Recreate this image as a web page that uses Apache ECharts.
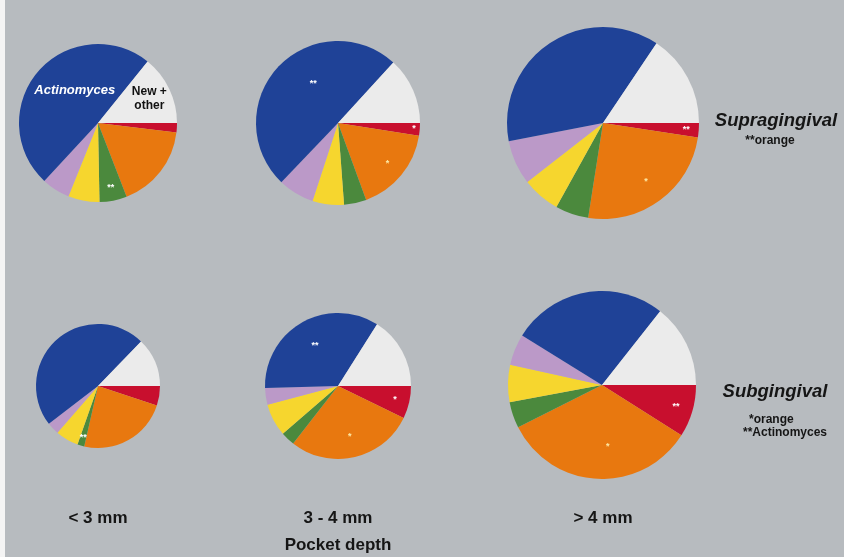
<!DOCTYPE html>
<html>
<head>
<meta charset="utf-8">
<script src="https://cdn.jsdelivr.net/npm/echarts@6/dist/echarts.min.js"></script>
<style>
  html, body { margin: 0; padding: 0; background: #b7bbbf; }
  #chart { width: 844px; height: 557px; }
</style>
</head>
<body>
<div id="chart"></div>
<script>
// Bacterial complexes, in drawing order (clockwise from 3 o'clock)
const complexes = ['Red', 'Orange', 'Green', 'Yellow', 'Purple', 'Actinomyces', 'New + other'];
const complexColors = ['#c80f2e', '#e8780f', '#4b893d', '#f6d62e', '#bb99c8', '#1f4297', '#ebebeb'];

// Proportions (%) per pocket depth
const supraShallow = [1.9, 17.2, 5.6, 6.4, 5.8, 48.9, 14.2];
const supraMid     = [2.5, 16.9, 4.4, 6.2, 7.1, 49.6, 13.2];
const supraDeep    = [2.4, 25.1, 5.6, 6.4, 7.5, 37.5, 15.6];
const subShallow   = [5.1, 23.5, 1.8, 6.0, 3.2, 47.7, 12.8];
const subMid       = [7.2, 28.3, 3.1, 7.2, 3.7, 34.4, 16.0];
const subDeep      = [9.0, 33.6, 4.5, 6.4, 5.4, 26.8, 14.4];

const depthLabels = ['< 3 mm', '3 - 4 mm', '> 4 mm'];

// Text placed inside slices (slice index -> text)
const sliceMarks = [
  { 5: 'Actinomyces', 6: 'New +\nother', 2: '**' },
  { 5: '**', 0: '*', 1: '*' },
  { 0: '**', 1: '*' },
  { 2: '**' },
  { 5: '**', 0: '*', 1: '*' },
  { 0: '**', 1: '*' }
];

// Layout of each pie: centre and radius in px, and where its slice texts sit
// ([fraction of radius, angular shift in degrees from the slice's mid angle])
const pieLayout = [
  { c: [98, 123], r: 79, at: { 5: [0.51, -14], 6: [0.72, 0], 2: [0.83, 0] } },
  { c: [338, 123], r: 82, at: { 5: [0.57, -15], 0: [0.93, 0], 1: [0.78, 0] } },
  { c: [603, 123], r: 96, at: { 0: [0.87, 0], 1: [0.76, 0] } },
  { c: [98, 386], r: 62, at: { 2: [0.86, 0] } },
  { c: [338, 386], r: 73, at: { 5: [0.64, 0], 0: [0.8, 0], 1: [0.71, 0] } },
  { c: [602, 385], r: 94, at: { 0: [0.82, 0], 1: [0.66, 8] } }
];

const pieValues = [supraShallow, supraMid, supraDeep, subShallow, subMid, subDeep];

function markStyle(text, sliceIdx) {
  if (text === 'Actinomyces') {
    return { color: '#ffffff', fontSize: 13, fontWeight: 'bold', fontStyle: 'italic' };
  }
  if (text.indexOf('New') === 0) {
    return { color: '#111111', fontSize: 12, fontWeight: 'bold', lineHeight: 14 };
  }
  return { color: sliceIdx === 1 ? '#fde9a6' : '#ffffff', fontSize: 9, fontWeight: 'bold' };
}

// Mid angle (radians, counter-clockwise from 3 o'clock) of a slice drawn clockwise from 0
function midAngle(values, idx) {
  const total = values.reduce((a, b) => a + b, 0);
  let before = 0;
  for (let i = 0; i < idx; i++) before += values[i];
  return -((before + values[idx] / 2) / total) * 2 * Math.PI;
}

const series = pieValues.map((values, s) => ({
  type: 'pie',
  center: pieLayout[s].c,
  radius: pieLayout[s].r,
  startAngle: 0,
  clockwise: true,
  avoidLabelOverlap: false,
  animation: false,
  silent: true,
  label: { show: false, position: 'inside' },
  labelLine: { show: false },
  itemStyle: { borderWidth: 0 },
  data: values.map((v, i) => {
    const item = { name: complexes[i], value: v, itemStyle: { color: complexColors[i] } };
    const text = sliceMarks[s][i];
    if (text) {
      item.label = Object.assign({ show: true, position: 'inside', formatter: text }, markStyle(text, i));
    }
    return item;
  }),
  labelLayout: function (p) {
    const lay = pieLayout[s];
    const spot = lay.at[p.dataIndex];
    if (!spot) return {};
    const a = midAngle(values, p.dataIndex) + spot[1] * Math.PI / 180;
    return {
      x: lay.c[0] + spot[0] * lay.r * Math.cos(a),
      y: lay.c[1] - spot[0] * lay.r * Math.sin(a)
    };
  }
}));

const textFont = 'Liberation Sans, Arial, Helvetica, sans-serif';
const ink = '#151515';

const graphic = [
  { type: 'rect', left: 0, top: 0, shape: { width: 5, height: 557 }, style: { fill: '#f4f4f4' } },
  { type: 'text', x: 776, y: 121, style: { text: 'Supragingival', font: 'italic bold 18.5px ' + textFont, fill: ink, align: 'center', verticalAlign: 'middle' } },
  { type: 'text', x: 770, y: 141, style: { text: '**orange', font: 'bold 12px ' + textFont, fill: ink, align: 'center', verticalAlign: 'middle' } },
  { type: 'text', x: 775, y: 392, style: { text: 'Subgingival', font: 'italic bold 18.5px ' + textFont, fill: ink, align: 'center', verticalAlign: 'middle' } },
  { type: 'text', x: 749, y: 420, style: { text: '*orange', font: 'bold 12px ' + textFont, fill: ink, align: 'left', verticalAlign: 'middle' } },
  { type: 'text', x: 743, y: 433, style: { text: '**Actinomyces', font: 'bold 12px ' + textFont, fill: ink, align: 'left', verticalAlign: 'middle' } },
  { type: 'text', x: 338, y: 545, style: { text: 'Pocket depth', font: 'bold 17px ' + textFont, fill: ink, align: 'center', verticalAlign: 'middle' } }
];
depthLabels.forEach((t, i) => {
  graphic.push({ type: 'text', x: pieLayout[i].c[0], y: 518, style: { text: t, font: 'bold 17px ' + textFont, fill: ink, align: 'center', verticalAlign: 'middle' } });
});

const chart = echarts.init(document.getElementById('chart'), null, { renderer: 'canvas' });
chart.setOption({
  backgroundColor: '#b7bbbf',
  animation: false,
  series: series,
  graphic: graphic
});
</script>
</body>
</html>
